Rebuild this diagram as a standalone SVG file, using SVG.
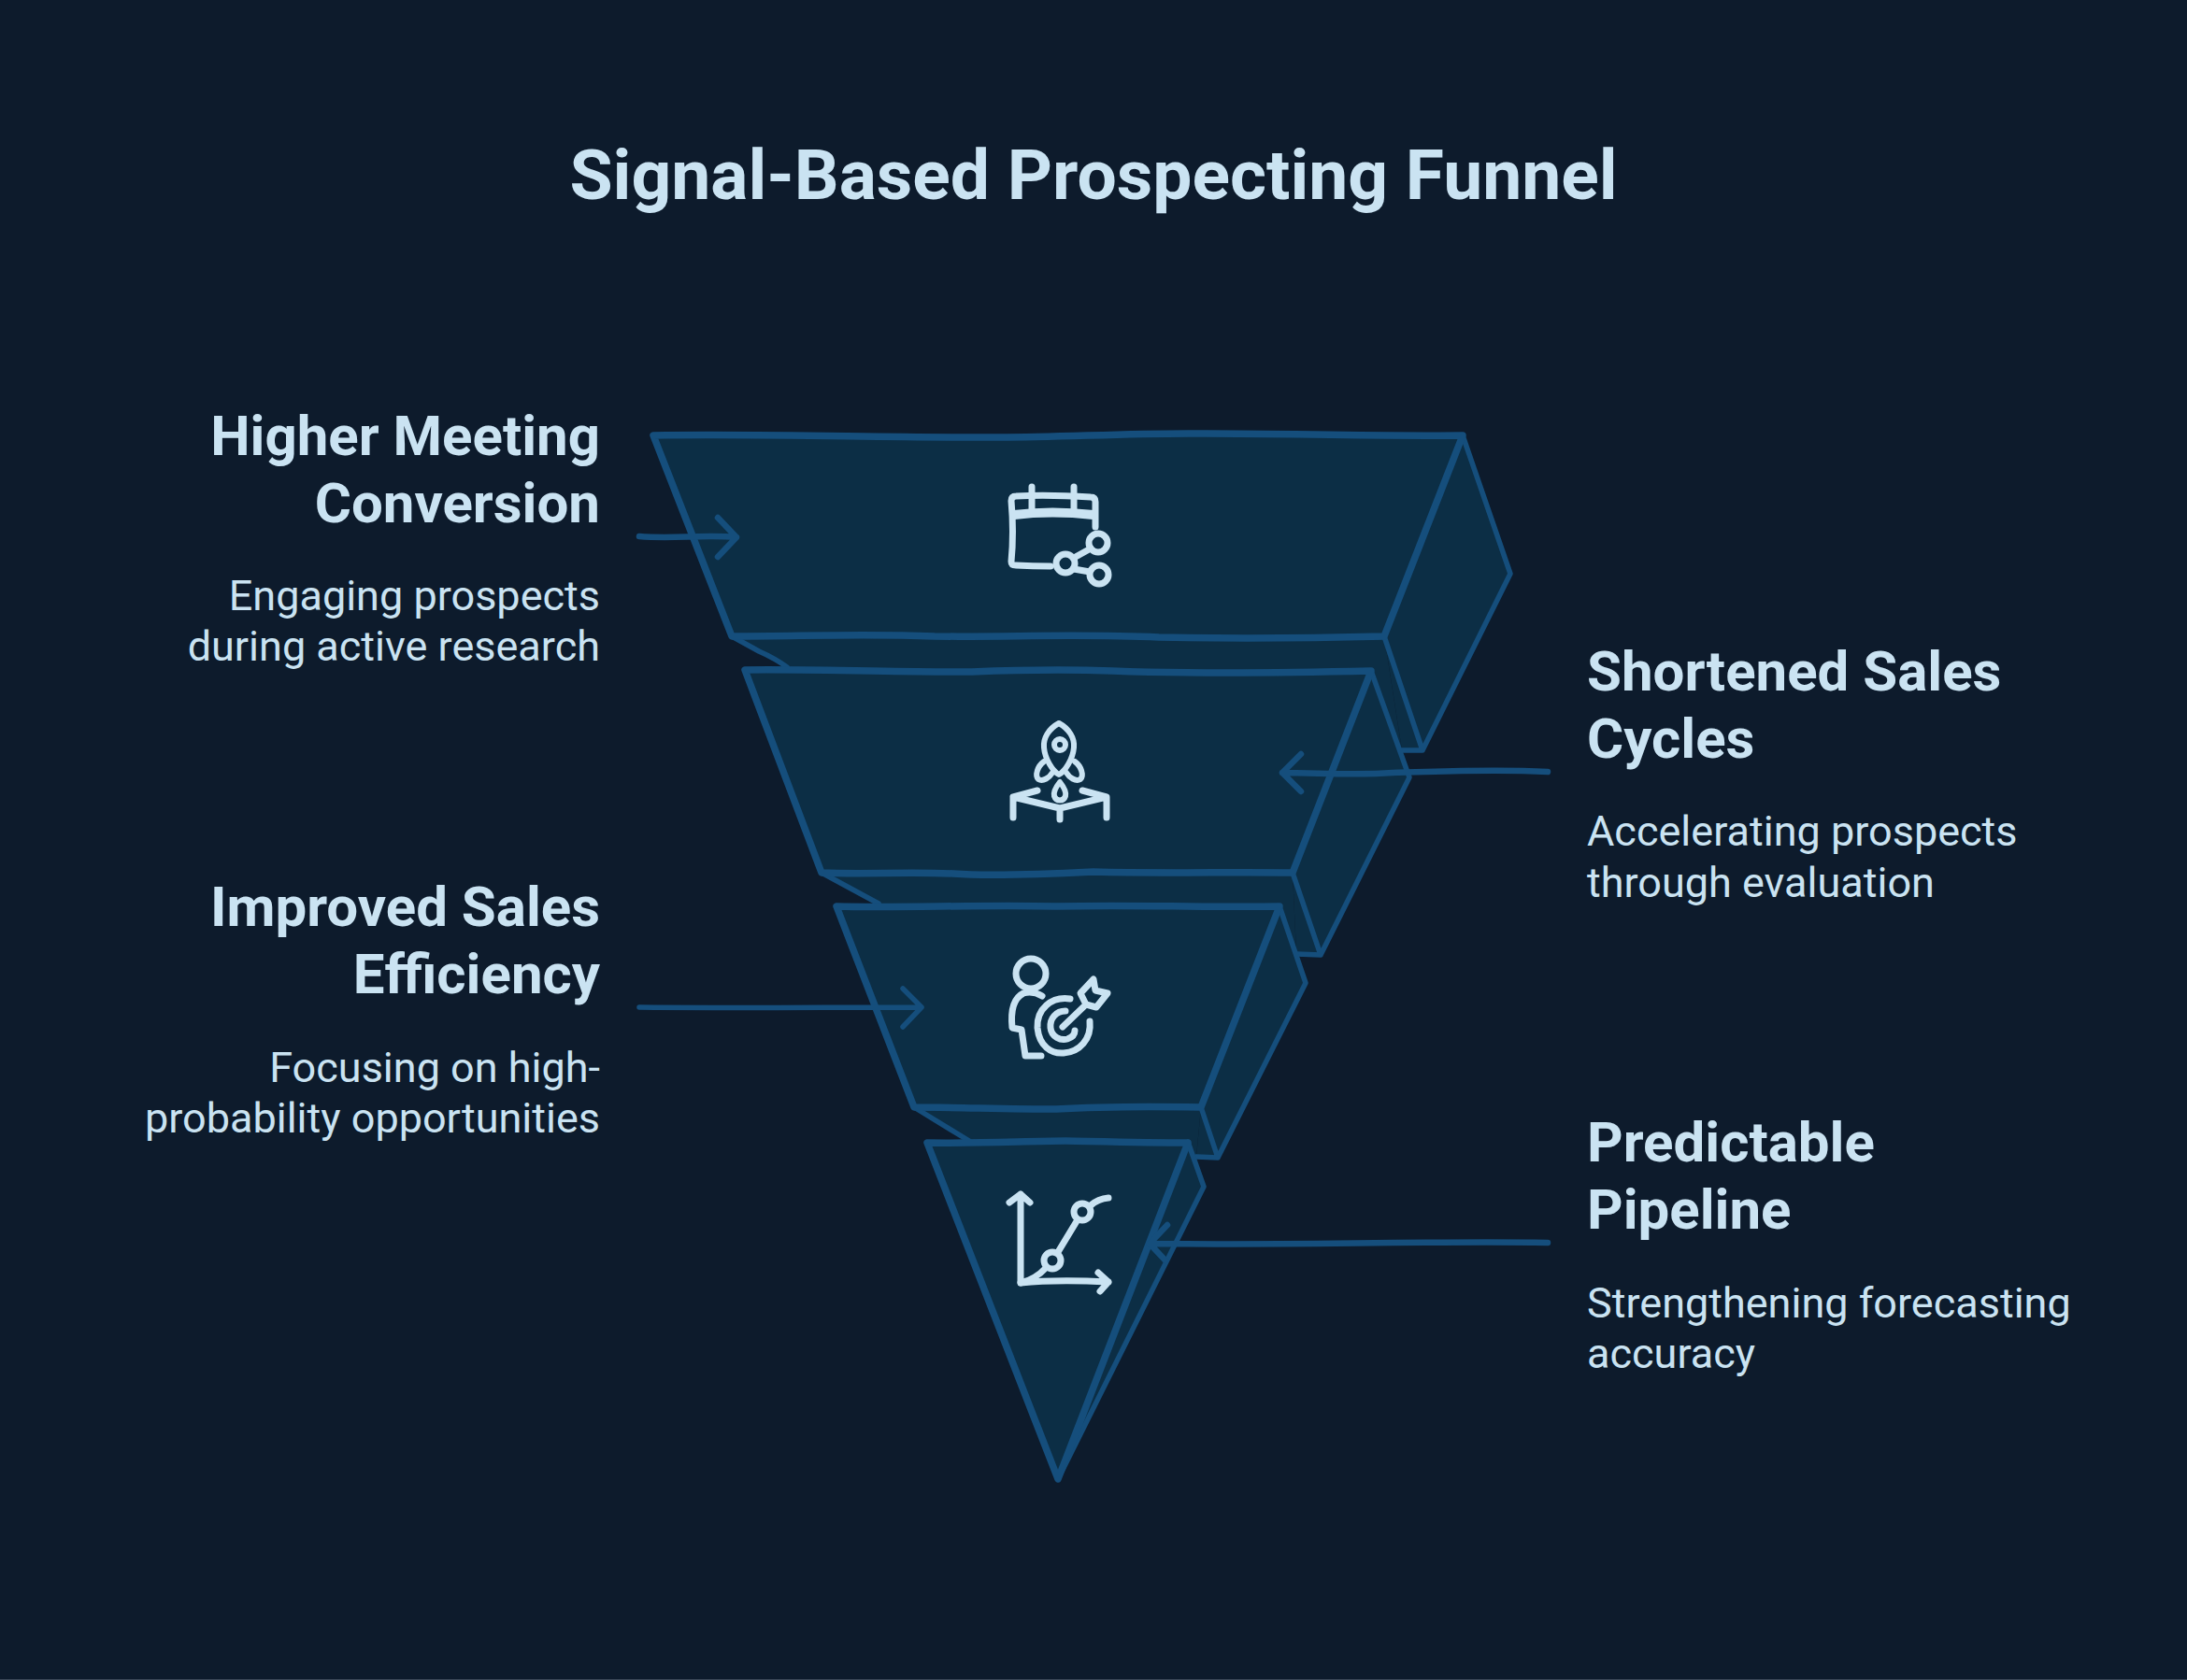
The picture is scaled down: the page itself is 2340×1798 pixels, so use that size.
<svg xmlns="http://www.w3.org/2000/svg" width="2340" height="1798" viewBox="0 0 2340 1798">
<style>
text{font-family:Roboto,"Liberation Sans",sans-serif;fill:#cae3f2}
.t{font-size:75px;font-weight:700}
.h{font-size:60px;font-weight:700}
.b{font-size:45px;font-weight:400}
.e{text-anchor:end}
.f{fill:#0c2e45;stroke:none}
.s{fill:#0c2e45;stroke:#154e7c;stroke-width:7.5;stroke-linejoin:round;stroke-linecap:round}
.l{fill:none;stroke:#154e7c;stroke-width:5.5;stroke-linejoin:round;stroke-linecap:round}
.a{fill:none;stroke:#154e7c;stroke-width:6.5;stroke-linejoin:round;stroke-linecap:round}
.i{fill:none;stroke:#cae3f2;stroke-width:7;stroke-linejoin:round;stroke-linecap:round}
</style>
<rect width="2340" height="1798" fill="#0d1b2c"/>
<rect y="1797" width="2340" height="1" fill="#3a4757"/>
<text class="t" x="1170" y="213" text-anchor="middle">Signal-Based Prospecting Funnel</text>
<g id="stage-1">
<path class="f" d="M1565 466L1616 614L1522 803L1500 803L1481 681Z"/>
<path class="f" d="M783 681L845 718L1467 718L1500 803L1481 681Z"/>
<path class="l" d="M1565 466L1616 614L1522 803L1500 803M1481 681L1522 803"/>
<path class="l" d="M783 681L812 697Q830 705 842 714" stroke-width="7"/>
<path class="s" d="M699 466C820 464 960 469 1070 468C1140 468 1210 463 1290 464C1380 464 1470 467 1565 466L1481 681C1400 683 1340 684 1240 682C1150 678 1080 682 1000 681C920 678 860 681 783 681Z"/>
</g>
<g id="stage-2">
<path class="f" d="M1467 718L1508 832L1413 1022L1387 1021L1383 934Z"/>
<path class="f" d="M879 934L940 970L1369 970L1387 1021L1383 934Z"/>
<path class="l" d="M1467 718L1508 832L1413 1022L1387 1021M1383 934L1413 1022"/>
<path class="l" d="M879 934L940 967" stroke-width="7"/>
<path class="s" d="M797 717C880 716 980 720 1040 719C1090 717 1130 716 1190 718C1270 721 1380 720 1467 718L1383 934C1320 933 1240 935 1170 933C1130 935 1060 938 1020 935C970 933 920 936 879 934Z"/>
</g>
<g id="stage-3">
<path class="f" d="M1369 970L1397 1052L1303 1239L1280 1238L1285 1185Z"/>
<path class="f" d="M978 1185L1037 1224L1271 1224L1280 1238L1285 1185Z"/>
<path class="l" d="M1369 970L1397 1052L1303 1239L1280 1238M1285 1185L1303 1239"/>
<path class="l" d="M978 1185L1037 1221" stroke-width="7"/>
<path class="s" d="M895 970C960 972 1050 968 1130 970C1200 968 1280 971 1369 970L1285 1185C1230 1184 1180 1184 1130 1187C1080 1187 1020 1185 978 1185Z"/>
</g>
<g id="stage-4">
<path class="f" d="M1271 1222L1288 1270L1132 1583Z"/>
<path class="l" d="M1271 1222L1288 1270L1132 1583"/>
<path class="s" d="M992 1223C1050 1224 1100 1221 1140 1221C1190 1222 1230 1223 1271 1223L1132 1583Z"/>
</g>
<g id="connectors">
<path class="a" d="M684 574C720 577 750 572 788 575M768 554L788 575L768 596"/>
<path class="a" d="M1656 826C1590 823 1540 826 1490 827C1450 830 1410 827 1372 827M1392 807L1372 827L1392 847"/>
<path class="a" style="stroke-width:5.5" d="M684 1078C780 1079 880 1078 986 1078M966 1058L986 1078L966 1099"/>
<path class="a" d="M1656 1330C1520 1328 1380 1333 1230 1331M1249 1311L1230 1331L1247 1349"/>
</g>
<g id="icon-1" class="i">
<path d="M1172 564V537Q1172 532 1167 532Q1120 529 1087 531Q1082 531 1082 536Q1085 570 1082 601Q1082 605 1087 605Q1105 606 1124 606"/>
<path d="M1085 551Q1125 546 1170 551" stroke-width="10"/>
<path d="M1104 521V546M1149 521V546"/>
<circle cx="1175" cy="581" r="10"/><circle cx="1140" cy="603" r="10"/><circle cx="1176" cy="615" r="10"/>
<path d="M1149 597L1167 587M1149 609L1166 612"/>
</g>
<g id="icon-2" class="i">
<g stroke-width="6">
<path d="M1133 774C1122 780 1116 790 1117 800C1118 812 1126 825 1133 829C1140 825 1148 812 1149 800C1150 790 1144 780 1133 774Z"/>
<circle cx="1134" cy="797" r="6"/>
<path d="M1117 815C1110 820 1107 830 1111 834C1116 837 1123 832 1126 827M1150 815C1157 820 1160 830 1156 834C1151 837 1144 832 1141 827"/>
<path d="M1134 837C1130 842 1127 848 1128 852C1130 858 1138 858 1140 852C1141 848 1138 842 1134 837Z"/>
</g>
<path d="M1110 846L1084 853L1134 865L1184 853L1158 846M1084 853V875M1184 853V875M1134 865V877"/>
</g>
<g id="icon-3" class="i">
<circle cx="1103" cy="1042" r="16"/>
<path d="M1115 1066Q1105 1060 1095 1063C1085 1068 1081 1080 1083 1100L1093 1102L1097 1130H1114"/>
<path d="M1145 1069C1125 1066 1109 1080 1110 1100C1112 1120 1125 1128 1138 1127C1155 1126 1168 1112 1166 1093"/>
<path d="M1140 1082C1130 1082 1123 1090 1124 1100C1125 1110 1135 1114 1142 1112C1148 1110 1150 1106 1150 1103"/>
<path d="M1137 1099L1162 1075M1156 1063L1170 1048L1172 1060L1185 1063L1173 1078L1162 1075Z"/>
</g>
<g id="icon-4" class="i">
<path d="M1092 1373V1278M1080 1287L1092 1278L1102 1287M1092 1373Q1130 1369 1186 1372M1175 1362L1186 1372L1177 1382"/>
<path d="M1092 1373Q1108 1369 1119 1357M1132 1340L1152 1307M1167 1290Q1175 1283 1186 1282"/>
<circle cx="1126" cy="1349" r="9"/><circle cx="1158" cy="1297" r="9"/>
</g>
<g id="label-1"><text class="h e" x="642" y="487">Higher Meeting</text><text class="h e" x="642" y="559">Conversion</text><text class="b e" x="642" y="653">Engaging prospects</text><text class="b e" x="642" y="707">during active research</text></g>
<g id="label-2"><text class="h" x="1698" y="739">Shortened Sales</text><text class="h" x="1698" y="811">Cycles</text><text class="b" x="1698" y="905">Accelerating prospects</text><text class="b" x="1698" y="960">through evaluation</text></g>
<g id="label-3"><text class="h e" x="642" y="991">Improved Sales</text><text class="h e" x="642" y="1063">Efficiency</text><text class="b e" x="642" y="1158">Focusing on high-</text><text class="b e" x="642" y="1212">probability opportunities</text></g>
<g id="label-4"><text class="h" x="1698" y="1243">Predictable</text><text class="h" x="1698" y="1315">Pipeline</text><text class="b" x="1698" y="1410">Strengthening forecasting</text><text class="b" x="1698" y="1464">accuracy</text></g>
</svg>
